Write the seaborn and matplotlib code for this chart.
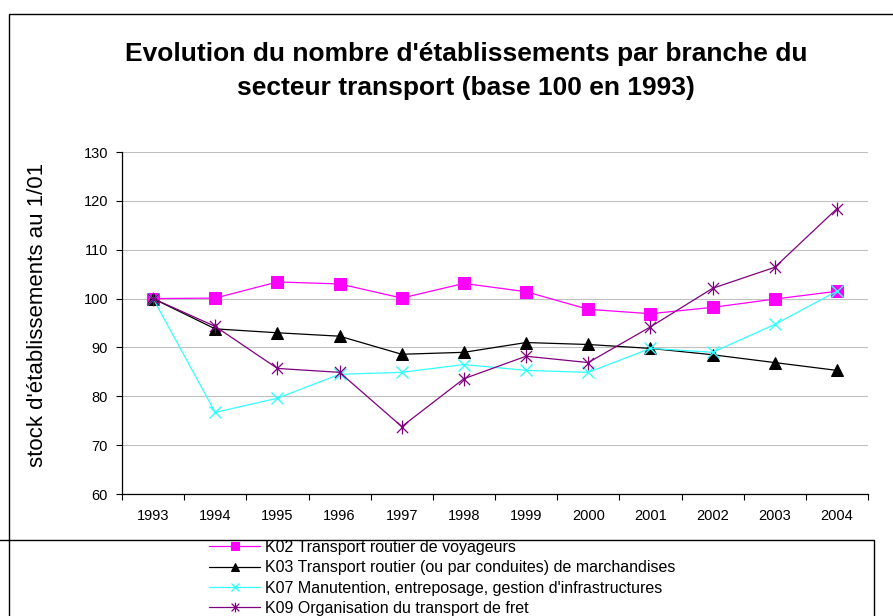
import numpy as np
import pandas as pd
import matplotlib
matplotlib.use('Agg')
import matplotlib.pyplot as plt
import seaborn as sns
from matplotlib.path import Path
from matplotlib.patches import Rectangle

# Data (base 100 en 1993)
years = ['1993', '1994', '1995', '1996', '1997', '1998',
         '1999', '2000', '2001', '2002', '2003', '2004']
k02 = [100, 100.1, 103.4, 103.0, 100.1, 103.1, 101.4, 97.8, 96.9, 98.2, 99.9, 101.5]
k03 = [100, 93.8, 93.0, 92.3, 88.6, 89.0, 91.0, 90.6, 89.8, 88.5, 86.9, 85.3]
k07 = [100, 76.7, 79.6, 84.5, 84.9, 86.5, 85.3, 84.9, 89.8, 89.0, 94.7, 101.5]
k09 = [100, 94.3, 85.7, 84.9, 73.8, 83.6, 88.2, 86.9, 94.2, 102.1, 106.4, 118.4]
labels = ['K02 Transport routier de voyageurs',
          'K03 Transport routier (ou par conduites) de marchandises',
          "K07 Manutention, entreposage, gestion d'infrastructures",
          'K09 Organisation du transport de fret']

sns.set_style('white')
plt.rcParams['font.family'] = ['Liberation Sans', 'DejaVu Sans']
plt.rcParams.update({'text.color': 'black', 'axes.labelcolor': 'black',
                     'xtick.color': 'black', 'ytick.color': 'black'})

# Excel-like "star": an x with a vertical bar
star = Path([(-1, -1), (1, 1), (-1, 1), (1, -1), (0, -1.25), (0, 1.25)],
            [Path.MOVETO, Path.LINETO, Path.MOVETO, Path.LINETO, Path.MOVETO, Path.LINETO])

styles = [
    dict(color='#FF00FF', marker='s', markersize=8, mec='#FF00FF'),
    dict(color='#000000', marker='^', markersize=9, mec='#000000'),
    dict(color='#33FFFF', marker='x', markersize=8, mec='#33FFFF', mew=1.0),
    dict(color='#800080', marker=star, markersize=10, mec='#800080', mew=0.9),
]

fig = plt.figure(figsize=(8.93, 6.16), dpi=100)
ax = fig.add_axes([122 / 893, 1 - 494 / 616, (868 - 122) / 893, (494 - 152) / 616])

x = np.arange(len(years))
handles = []
for vals, lab, st in zip([k02, k03, k07, k09], labels, styles):
    sns.lineplot(x=x, y=vals, ax=ax, lw=0.9, label=lab, legend=False, **st)
    handles.append(ax.lines[-1])

ax.set_xlim(-0.5, len(years) - 0.5)
ax.set_ylim(60, 130)
ax.set_yticks(np.arange(60, 131, 10))
ax.set_xticks(x)
ax.set_xticklabels(years)
ax.set_xticks(np.arange(-0.5, len(years), 1), minor=True)
ax.tick_params(axis='x', which='major', length=0, pad=11, labelsize=10.5)
ax.tick_params(axis='x', which='minor', length=4, width=0.8, direction='out', bottom=True)
ax.tick_params(axis='y', length=4, width=0.8, direction='out', left=True, pad=6, labelsize=10.5)
ax.yaxis.grid(True, color='#C0C0C0', lw=0.8)
ax.set_axisbelow(True)
for s in ['top', 'right']:
    ax.spines[s].set_visible(False)
for s in ['left', 'bottom']:
    ax.spines[s].set_color('black')
    ax.spines[s].set_linewidth(0.9)
ax.set_xlabel('')
ax.set_ylabel('')
fig.text(38 / 893, 1 - 315 / 616, "stock d'établissements au 1/01", rotation=90,
         ha='center', va='center', fontsize=16)

fig.text(466 / 893, 1 - 71 / 616,
         "Evolution du nombre d'établissements par branche du\nsecteur transport (base 100 en 1993)",
         ha='center', va='center', fontsize=19, fontweight='bold', linespacing=1.5)

# chart border and legend box (partially visible like the reference)
fig.patches.append(Rectangle((9 / 893, -0.1), 1.1, 1.1 - 14 / 616, transform=fig.transFigure,
                             fill=False, ec='black', lw=1.0))
fig.patches.append(Rectangle((-0.05, -0.1), 0.05 + 874 / 893, 0.1 + 76 / 616,
                             transform=fig.transFigure, fill=False, ec='black', lw=1.0))

fig.legend(handles, labels, loc='upper left', bbox_to_anchor=(209 / 893, 1 - 540 / 616),
           frameon=False, fontsize=11.5, handlelength=3.2, handletextpad=0.3,
           labelspacing=0.33, borderpad=0, borderaxespad=0, markerscale=0.7)

fig.savefig('out.png', dpi=100)
